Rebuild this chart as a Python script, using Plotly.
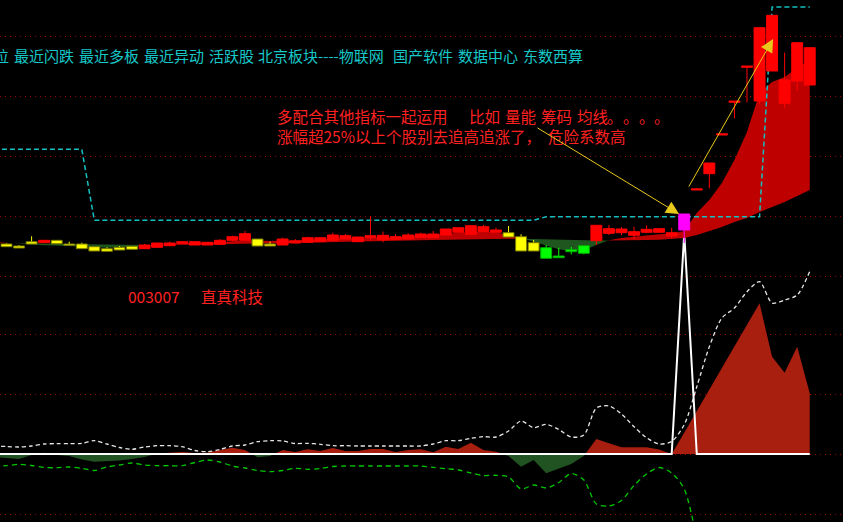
import plotly.graph_objects as go

# ---------------- data ----------------
idx = list(range(-1, 65))

# candle colour code: r = up (red), y = down (yellow), g = down (green), m = signal (magenta)
kcolor = (['r', 'y', 'y', 'y', 'r', 'y', 'y', 'y', 'y', 'y', 'y', 'y']
          + ['r'] * 9 + ['y', 'y'] + ['r'] * 18 + ['y', 'y', 'y', 'g', 'g', 'g', 'g']
          + ['r'] * 7 + ['m'] + ['r'] * 10)

opens = [21.10, 21.10, 20.90, 21.33, 21.23, 21.47, 21.10, 21.10, 20.83, 20.63, 20.77, 20.87,
         20.63, 20.77, 20.93, 21.17, 21.00, 21.00, 21.07, 21.47, 21.47, 21.60, 21.10, 21.00,
         21.20, 21.27, 21.33, 21.47, 21.60, 21.33, 21.73, 21.53, 21.57, 21.60, 21.77, 21.73,
         22.00, 22.27, 22.07, 22.33, 22.27, 22.23, 21.83, 21.23, 20.73, 19.90, 20.53, 20.93,
         21.43, 22.17, 22.23, 21.97, 22.27, 22.27, 21.90, 22.50, 26.50, 28.13, 32.00, 35.27,
         38.77, 35.40, 38.40, 35.17, 37.40, 37.00]
highs = [21.33, 21.17, 21.00, 21.87, 21.47, 21.47, 21.33, 21.23, 20.83, 20.77, 20.90, 20.87,
         21.10, 21.20, 21.33, 21.37, 21.33, 21.27, 21.60, 21.93, 22.40, 21.60, 21.33, 21.73,
         21.60, 21.83, 21.73, 22.23, 22.10, 21.80, 23.90, 22.35, 22.10, 22.17, 22.23, 22.40,
         22.60, 22.73, 22.93, 23.00, 22.73, 22.90, 22.07, 21.50, 21.00, 20.73, 20.80, 20.93,
         22.97, 23.00, 22.80, 22.83, 22.97, 22.67, 22.73, 24.10, 26.62, 29.20, 32.12, 35.40,
         38.90, 42.73, 43.97, 40.23, 41.23, 40.73]
lows = [21.10, 20.83, 20.70, 21.10, 21.23, 21.13, 20.97, 20.63, 20.40, 20.37, 20.50, 20.57,
        20.63, 20.77, 20.93, 21.17, 21.00, 21.00, 21.07, 21.33, 21.47, 20.90, 20.90, 21.00,
        21.20, 21.27, 21.33, 21.47, 21.60, 21.33, 21.40, 21.27, 21.57, 21.60, 21.77, 21.73,
        22.00, 22.27, 22.07, 22.33, 22.27, 21.80, 20.40, 20.40, 19.67, 19.73, 20.07, 20.07,
        21.00, 22.00, 22.00, 21.57, 22.17, 22.27, 21.67, 21.20, 26.50, 26.67, 32.00, 33.67,
        35.27, 35.10, 38.40, 34.67, 36.43, 37.00]
closes = [21.33, 20.83, 20.70, 21.10, 21.47, 21.13, 20.97, 20.63, 20.40, 20.37, 20.50, 20.57,
          21.00, 21.20, 21.20, 21.33, 21.33, 21.27, 21.47, 21.83, 22.13, 20.90, 20.90, 21.60,
          21.40, 21.73, 21.73, 22.00, 21.93, 21.80, 21.93, 21.97, 21.83, 22.00, 22.10, 22.10,
          22.60, 22.73, 22.93, 22.83, 22.50, 21.80, 20.40, 20.40, 19.67, 19.73, 20.33, 20.17,
          22.97, 22.63, 22.60, 22.33, 22.57, 22.63, 22.23, 24.10, 26.62, 29.20, 32.12, 35.40,
          38.90, 42.73, 43.97, 37.50, 41.23, 40.73]

# moving-average band: fast and slow line
ma_fast = [21.30, 21.22, 21.12, 21.05, 20.98, 20.94, 20.88, 20.80, 20.74, 20.72, 20.74, 20.82,
           20.92, 21.02, 21.11, 21.17, 21.18, 21.22, 21.28, 21.38, 21.48, 21.44, 21.40, 21.44,
           21.45, 21.50, 21.55, 21.64, 21.65, 21.65, 21.70, 21.74, 21.75, 21.84, 21.94, 22.00,
           22.14, 22.24, 22.30, 22.34, 22.26, 22.02, 21.67, 21.35, 20.95, 20.57, 20.37, 20.48,
           21.00, 21.48, 21.70, 21.85, 21.98, 22.08, 22.15, 22.40, 24.20, 25.50, 27.20, 29.50,
           32.30, 36.20, 37.30, 37.80, 38.70, 39.50]
ma_slow = [21.18, 21.17, 21.16, 21.15, 21.14, 21.13, 21.11, 21.09, 21.07, 21.05, 21.03, 21.01,
           21.00, 20.99, 20.99, 21.00, 21.02, 21.04, 21.07, 21.10, 21.13, 21.16, 21.18, 21.20,
           21.23, 21.25, 21.28, 21.30, 21.33, 21.35, 21.38, 21.40, 21.42, 21.45, 21.48, 21.50,
           21.53, 21.55, 21.58, 21.60, 21.62, 21.63, 21.63, 21.62, 21.60, 21.55, 21.50, 21.47,
           21.45, 21.45, 21.46, 21.47, 21.49, 21.52, 21.58, 21.70, 22.00, 22.40, 22.80, 23.30,
           23.70, 24.30, 24.80, 25.30, 25.90, 26.50]

# cyan step line (price pane)
cyan_line = [30.57] * 8 + [23.47] * 36 + [23.83] * 18 + [44.80] * 4

# lower indicator pane
osc = [-1.5, -2.0, -2.5, -0.5, 0.65, -0.5, -1.0, -2.75, -3.85, -3.5, -3.25, -2.5,
       -1.5, 0.25, 0.65, 1.0, 0.5, 0.65, 2.0, 3.15, 2.0, -1.65, -1.0, 2.0,
       1.0, 2.35, 1.5, 3.0, 1.5, 1.5, 2.5, 2.5, 1.0, 2.0, 2.35, 0.85,
       3.65, 2.5, 5.65, 2.0, 1.15, -1.0, -6.35, -3.0, -9.65, -7.5, -5.0, -1.0,
       7.5, 5.35, 3.35, 3.35, 3.35, 2.25, 0.0, 10.65, 21.4, 32.2, 43.0, 53.8,
       64.55, 75.35, 48.65, 40.65, 53.65, 30.35]
white_dash = [4.0, 3.75, 3.5, 4.0, 5.0, 5.15, 5.15, 5.35, 6.65, 5.0, 3.25, 2.35,
              3.5, 4.15, 4.15, 3.65, 1.75, 1.15, 2.25, 4.0, 4.5, 6.15, 6.65, 6.5,
              5.25, 5.35, 4.85, 4.15, 4.15, 4.0, 4.0, 4.0, 4.0, 4.0, 4.0, 5.0,
              6.65, 6.65, 7.85, 8.65, 8.5, 11.5, 16.5, 13.15, 14.85, 12.25, 8.5, 9.5,
              23.0, 24.0, 20.0, 13.65, 8.15, 5.0, 6.3, 14.65, 33.65, 53.65, 68.0, 73.0,
              81.15, 86.15, 75.5, 77.0, 79.5, 91.3]
green_dash = [-5.85, -5.85, -5.15, -5.75, -6.75, -6.85, -6.5, -7.15, -8.25, -6.5, -5.5, -4.5,
              -5.5, -5.85, -5.85, -5.85, -4.25, -3.0, -4.0, -6.0, -7.0, -8.25, -8.85, -8.25,
              -7.15, -7.65, -7.25, -6.25, -6.0, -6.0, -6.0, -6.0, -6.0, -6.0, -6.0, -6.65,
              -7.35, -8.0, -9.5, -10.75, -10.65, -11.5, -17.5, -15.5, -17.0, -14.25, -9.75, -13.0,
              -25.0, -26.0, -23.25, -15.75, -10.0, -6.75, -9.5, -17.5, -43.0] + [None] * 9
spike = [0.0] * 55 + [110.5] + [0.0] * 10

# ---------------- colours ----------------
CANDLE = {'r': ('#ff0000', '#ff0000'), 'y': ('#ffff00', '#7a7a00'),
          'g': ('#00ff00', '#00b000'), 'm': ('#ff00ff', '#ff00ff')}
BAND_UP, BAND_DN = '#bf0000', '#1f551f'
OSC_UP, OSC_DN = '#a81e0f', '#215221'
GRID = '#9a0000'
RED_TXT = '#ff2020'
CYAN_TXT = '#16c8c8'
ARROW = '#e8c81a'


def sign_fill(xs, a, b):
    """Polygons between a and b, split where a-b changes sign."""
    out = {True: ([], []), False: ([], [])}

    def flush(top, bot, s):
        px_, py_ = out[s]
        pts = top + bot[::-1]
        px_ += [p[0] for p in pts] + [pts[0][0], None]
        py_ += [p[1] for p in pts] + [pts[0][1], None]

    s0 = a[0] >= b[0]
    top, bot = [(xs[0], a[0])], [(xs[0], b[0])]
    for i in range(1, len(xs)):
        s = a[i] >= b[i]
        if s != s0:
            d0, d1 = a[i - 1] - b[i - 1], a[i] - b[i]
            t = d0 / (d0 - d1)
            xc = xs[i - 1] + t * (xs[i] - xs[i - 1])
            yc = a[i - 1] + t * (a[i] - a[i - 1])
            top.append((xc, yc)); bot.append((xc, yc))
            flush(top, bot, s0)
            top, bot = [(xc, yc)], [(xc, yc)]
            s0 = s
        top.append((xs[i], a[i])); bot.append((xs[i], b[i]))
    flush(top, bot, s0)
    return out


fig = go.Figure()

# ---- lower indicator pane (axis y) ----
of = sign_fill(idx, osc, [0.0] * len(idx))
for s, col in ((True, OSC_UP), (False, OSC_DN)):
    fig.add_trace(go.Scatter(x=of[s][0], y=of[s][1], fill='toself', fillcolor=col,
                             mode='lines', line=dict(width=0, color=col),
                             hoverinfo='skip', yaxis='y'))
fig.add_trace(go.Scatter(x=idx, y=white_dash, mode='lines', yaxis='y',
                         line=dict(color='#e6e6e6', width=1.3, dash='4px,3px',
                                   shape='spline', smoothing=0.8), hoverinfo='skip'))
fig.add_trace(go.Scatter(x=idx, y=green_dash, mode='lines', yaxis='y',
                         line=dict(color='#00c800', width=1.3, dash='5px,4px',
                                   shape='spline', smoothing=0.8), hoverinfo='skip'))
fig.add_trace(go.Scatter(x=idx, y=spike, mode='lines', yaxis='y',
                         line=dict(color='#ffffff', width=2), hoverinfo='skip'))

# ---- price pane (axis y2) ----
bf = sign_fill(idx, ma_fast, ma_slow)
for s, col in ((True, BAND_UP), (False, BAND_DN)):
    fig.add_trace(go.Scatter(x=bf[s][0], y=bf[s][1], fill='toself', fillcolor=col,
                             mode='lines', line=dict(width=0, color=col),
                             hoverinfo='skip', yaxis='y2'))
fig.add_trace(go.Scatter(x=idx, y=cyan_line, mode='lines', yaxis='y2',
                         line=dict(color='#14c0c0', width=1.5, dash='5px,3px'),
                         hoverinfo='skip'))

W = 0.87
for code, (fill, edge) in CANDLE.items():
    wx, wy, bx, by = [], [], [], []
    for i, o, h, l, c, k in zip(idx, opens, highs, lows, closes, kcolor):
        if k != code:
            continue
        wx += [i, i, None]; wy += [l, h, None]
        lo, hi = min(o, c), max(o, c)
        bx += [i - W / 2, i + W / 2, i + W / 2, i - W / 2, i - W / 2, None]
        by += [lo, lo, hi, hi, lo, None]
    if not bx:
        continue
    fig.add_trace(go.Scatter(x=wx, y=wy, mode='lines', yaxis='y2',
                             line=dict(color=fill, width=1), hoverinfo='skip'))
    fig.add_trace(go.Scatter(x=bx, y=by, mode='lines', fill='toself', fillcolor=fill,
                             line=dict(color=edge, width=1), yaxis='y2', hoverinfo='skip'))

# ---------------- texts ----------------
def pxx(v):
    return v / 843.0


def pxy(v):
    return 1 - v / 522.0


ann = []
cyan_words = [("位", -8), ("最近闪跌", 11.5), ("最近多板", 76.5), ("最近异动", 141.6),
              ("活跃股", 206.7), ("北京板块----物联网", 256.4), ("国产软件", 391),
              ("数据中心", 456.2), ("东数西算", 521.2)]
for t, x0 in cyan_words:
    ann.append(dict(text=t, x=pxx(x0), y=pxy(55), xref='paper', yref='paper',
                    xanchor='left', yanchor='middle', showarrow=False,
                    font=dict(family='Noto Sans CJK SC', size=15, color=CYAN_TXT)))
red_words = [("多配合其他指标一起运用", 275, 116), ("比如", 466.7, 116), ("量能", 502.7, 116),
             ("筹码", 539, 116), ("均线", 575, 116),
             ("。", 605, 116), ("。", 621, 116), ("。", 637, 116), ("。", 652, 116),
             ("涨幅超25%以上个股别去追高追涨了，", 275, 136), ("危险系数高", 546, 136),
             ("003007", 126, 296), ("直真科技", 199, 296)]
for t, x0, y0 in red_words:
    ann.append(dict(text=t, x=pxx(x0), y=pxy(y0), xref='paper', yref='paper',
                    xanchor='left', yanchor='middle', showarrow=False,
                    font=dict(family='Noto Sans CJK SC', size=15.5, color=RED_TXT)))

# arrows (data coordinates of the price pane)
for (tx, ty, ax_, ay_) in ((53.59, 24.10, 42.19, 32.80), (61.08, 41.60, 54.30, 26.70)):
    ann.append(dict(text='', x=tx, y=ty, xref='x', yref='y2', ax=ax_, ay=ay_,
                    axref='x', ayref='y2', showarrow=True, arrowhead=2, arrowsize=2.6,
                    arrowwidth=1, arrowcolor=ARROW, standoff=0))

fig.update_layout(
    width=843, height=522, margin=dict(l=0, r=0, t=0, b=0),
    paper_bgcolor='black', plot_bgcolor='black', showlegend=False,
    xaxis=dict(range=[-0.518, 66.65], visible=True, showgrid=False, zeroline=False,
               showticklabels=False, ticks='', showline=False, fixedrange=True),
    yaxis=dict(range=[-34, 227], tickvals=[60, 30, 0, -30], showgrid=True,
               gridcolor=GRID, griddash='1px,4px', gridwidth=1, zeroline=False,
               showticklabels=False, ticks='', showline=False, fixedrange=True),
    yaxis2=dict(range=[-6.7, 45.5], overlaying='y', side='right',
                tickvals=[41.9, 35.9, 29.9, 23.9, 17.9], showgrid=True,
                gridcolor=GRID, griddash='1px,4px', gridwidth=1, zeroline=False,
                showticklabels=False, ticks='', showline=False, fixedrange=True),
    annotations=ann,
)

fig.write_html("out.html", config={'displayModeBar': False},
               post_script="document.body.style.margin='0';"
                           "document.body.style.background='black';"
                           "document.body.style.overflow='hidden';")
